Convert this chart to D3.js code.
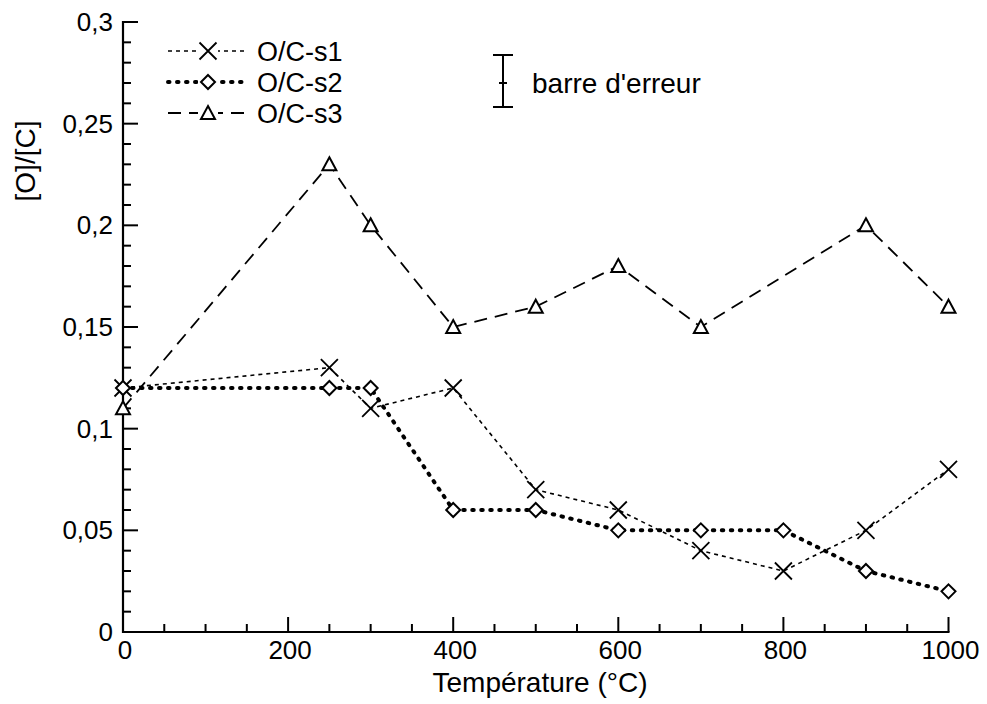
<!DOCTYPE html>
<html><head><meta charset="utf-8">
<script src="https://cdn.jsdelivr.net/npm/d3@7"></script>
<style>
html,body{margin:0;padding:0;background:#fff;}
text{font-family:"Liberation Sans",Arial,sans-serif;fill:#000;}
</style></head>
<body>
<svg id="chart" width="987" height="704"></svg>
<script>
const temps1 = [0, 250, 300, 400, 500, 600, 700, 800, 900, 1000];
const s1 = [0.12, 0.13, 0.11, 0.12, 0.07, 0.06, 0.04, 0.03, 0.05, 0.08];
const temps2 = [0, 250, 300, 400, 500, 600, 700, 800, 900, 1000];
const s2 = [0.12, 0.12, 0.12, 0.06, 0.06, 0.05, 0.05, 0.05, 0.03, 0.02];
const temps3 = [0, 250, 300, 400, 500, 600, 700, 900, 1000];
const s3 = [0.11, 0.23, 0.20, 0.15, 0.16, 0.18, 0.15, 0.20, 0.16];
const seriesNames = ["O/C-s1", "O/C-s2", "O/C-s3"];
const xMajor = [0, 200, 400, 600, 800, 1000];
const yMajor = [0, 0.05, 0.1, 0.15, 0.2, 0.25, 0.3];
const yLabels = ["0", "0,05", "0,1", "0,15", "0,2", "0,25", "0,3"];
const errLabel = "barre d'erreur";
const xTitle = "Température (°C)";
const yTitle = "[O]/[C]";

const svg = d3.select("#chart");
const x = d3.scaleLinear().domain([0, 1000]).range([123, 948.5]);
const y = d3.scaleLinear().domain([0, 0.3]).range([632, 22]);
const FS = 26, FT = 28, FL = 27;

const xMinor = d3.range(0, 1001, 50).filter(v => v % 200 !== 0);
const yMinor = d3.range(0, 31).map(v => v / 100).filter((v, i) => i % 5 !== 0);

const g = svg.append("g");
g.selectAll(".xmin").data(xMinor).enter().append("line")
  .attr("x1", d => x(d)).attr("x2", d => x(d)).attr("y1", y(0)).attr("y2", y(0) - 8)
  .attr("stroke", "#000").attr("stroke-width", 2);
g.selectAll(".xmaj").data(xMajor).enter().append("line")
  .attr("x1", d => x(d)).attr("x2", d => x(d)).attr("y1", y(0)).attr("y2", y(0) - 15)
  .attr("stroke", "#000").attr("stroke-width", 2);
g.selectAll(".ymin").data(yMinor).enter().append("line")
  .attr("x1", x(0)).attr("x2", x(0) + 8).attr("y1", d => y(d)).attr("y2", d => y(d))
  .attr("stroke", "#000").attr("stroke-width", 2);
g.selectAll(".ymaj").data(yMajor).enter().append("line")
  .attr("x1", x(0)).attr("x2", x(0) + 15).attr("y1", d => y(d)).attr("y2", d => y(d))
  .attr("stroke", "#000").attr("stroke-width", 2);
g.append("line").attr("x1", x(0) - 1).attr("x2", x(1000) + 1).attr("y1", y(0)).attr("y2", y(0))
  .attr("stroke", "#000").attr("stroke-width", 2.2);
g.append("line").attr("x1", x(0)).attr("x2", x(0)).attr("y1", y(0) + 1).attr("y2", y(0.3) - 1)
  .attr("stroke", "#000").attr("stroke-width", 2.2);

g.selectAll(".xl").data(xMajor).enter().append("text")
  .attr("x", d => x(d) + 2).attr("y", 659).attr("text-anchor", "middle")
  .attr("font-size", FS).text(d => d);
g.selectAll(".yl").data(yMajor).enter().append("text")
  .attr("x", 113).attr("y", d => y(d) + 9).attr("text-anchor", "end")
  .attr("font-size", FS).text((d, i) => yLabels[i]);

svg.append("text").attr("x", 540).attr("y", 692).attr("text-anchor", "middle")
  .attr("font-size", FT).text(xTitle);
svg.append("text").attr("transform", "translate(35,161) rotate(-90)").attr("text-anchor", "middle")
  .attr("font-size", FT).text(yTitle);

const styles = [
  {w: 1.6, dash: "4,4", cap: "butt"},
  {w: 4, dash: "1.5,7.5", cap: "round"},
  {w: 1.8, dash: "13,8", cap: "butt"}
];
const data = [
  temps1.map((t, i) => [t, s1[i]]),
  temps2.map((t, i) => [t, s2[i]]),
  temps3.map((t, i) => [t, s3[i]])
];
const line = d3.line().x(d => x(d[0])).y(d => y(d[1]));

data.forEach((d, k) => {
  svg.append("path").attr("d", line(d)).attr("fill", "none").attr("stroke", "#000")
    .attr("stroke-width", styles[k].w).attr("stroke-dasharray", styles[k].dash)
    .attr("stroke-linecap", styles[k].cap).attr("stroke-linejoin", "round");
});

function marker(sel, k, cx, cy) {
  if (k === 0) {
    const h = 8.5;
    sel.append("path").attr("d", `M${cx - h},${cy - h}L${cx + h},${cy + h}M${cx - h},${cy + h}L${cx + h},${cy - h}`)
      .attr("stroke", "#000").attr("stroke-width", 1.8).attr("fill", "none");
  } else if (k === 1) {
    const h = 7;
    sel.append("path").attr("d", `M${cx},${cy - h}L${cx + h},${cy}L${cx},${cy + h}L${cx - h},${cy}Z`)
      .attr("stroke", "#000").attr("stroke-width", 2).attr("fill", "#fff");
  } else {
    const h = 7;
    sel.append("path").attr("d", `M${cx},${cy - h}L${cx + h},${cy + 6}L${cx - h},${cy + 6}Z`)
      .attr("stroke", "#000").attr("stroke-width", 2).attr("fill", "#fff");
  }
}
data.forEach((d, k) => {
  const mg = svg.append("g");
  d.forEach(p => marker(mg, k, x(p[0]), y(p[1])));
});

const legY = [51, 82, 113];
seriesNames.forEach((name, k) => {
  const lg = svg.append("g");
  lg.append("line").attr("x1", 168).attr("x2", 247).attr("y1", legY[k]).attr("y2", legY[k])
    .attr("stroke", "#000").attr("stroke-width", styles[k].w).attr("stroke-dasharray", styles[k].dash)
    .attr("stroke-linecap", styles[k].cap);
  lg.append("rect").attr("x", 198).attr("y", legY[k] - 9).attr("width", 20).attr("height", 18).attr("fill", "#fff");
  marker(lg, k, 208, legY[k]);
  lg.append("text").attr("x", 257).attr("y", legY[k] + 10).attr("font-size", FL).text(name);
});

const eb = svg.append("g").attr("stroke", "#000").attr("stroke-width", 2);
eb.append("line").attr("x1", 503).attr("x2", 503).attr("y1", 55).attr("y2", 107);
eb.append("line").attr("x1", 493).attr("x2", 513).attr("y1", 55).attr("y2", 55);
eb.append("line").attr("x1", 493).attr("x2", 513).attr("y1", 107).attr("y2", 107);
eb.append("line").attr("x1", 499).attr("x2", 507).attr("y1", 83).attr("y2", 83);
svg.append("text").attr("x", 532).attr("y", 93).attr("font-size", FT).text(errLabel);
</script>
</body></html>
